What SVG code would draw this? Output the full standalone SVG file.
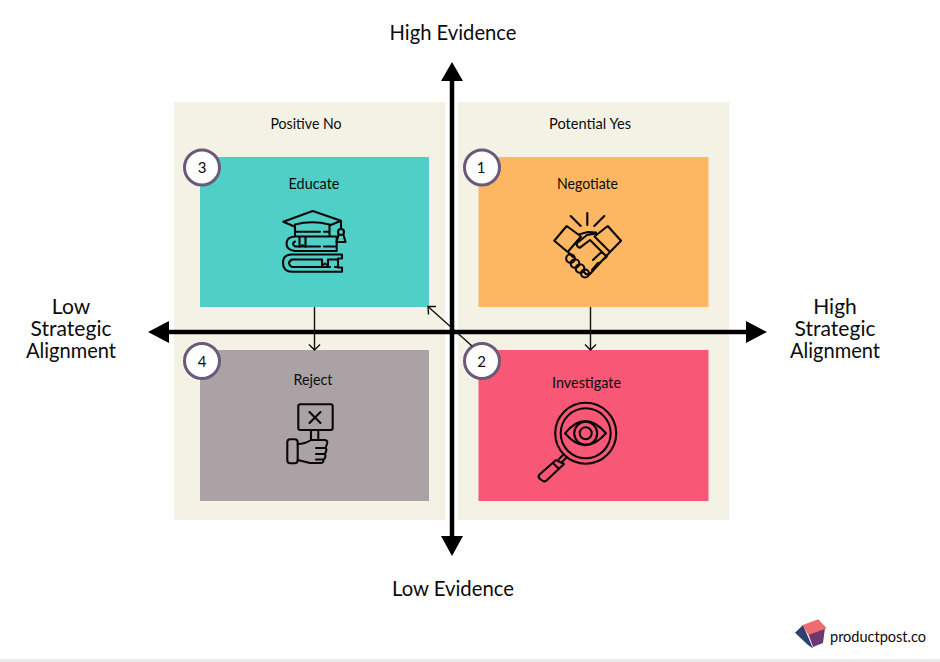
<svg xmlns="http://www.w3.org/2000/svg" width="940" height="662" viewBox="0 0 940 662">
<style>
text{font-family:"Lato","Liberation Sans",sans-serif;fill:#0c0c0c;text-anchor:middle}
.ax{font-size:21px}
.sm{font-size:15px}
.n{font-size:15px}
.bg{fill:#f4f2e4}
.c{fill:#fff;stroke:#6a5a7a;stroke-width:3}
.i{fill:none;stroke:#080808;stroke-width:2.100;stroke-linecap:round;stroke-linejoin:round}
.ln{fill:none;stroke:#111;stroke-width:1.400}
.axis{fill:none;stroke:#000;stroke-width:4.500}
</style>
<rect width="940" height="662" fill="#fff"/>
<rect y="659" width="940" height="3" fill="#ececec"/>
<rect class="bg" x="174" y="102" width="271" height="418"/>
<rect class="bg" x="458" y="102" width="271" height="418"/>
<text class="sm" x="306" y="129" textLength="71" lengthAdjust="spacingAndGlyphs">Positive No</text>
<text class="sm" x="590" y="129" textLength="82" lengthAdjust="spacingAndGlyphs">Potential Yes</text>

<g id="node-educate">
<rect x="200" y="157" width="229" height="150" fill="#50cfc7"/>
<text class="sm" x="314" y="189" textLength="51" lengthAdjust="spacingAndGlyphs">Educate</text>
<path class="i" d="M312.700 211L341 220.700 329.500 225.500M295 226.700L283.300 221.700 312.700 211M295 236V224.500Q312 220 329.500 224.500V236M295 231.700H320M324 231.700H329.500M295 236.500H336.700V251H295M295 236.500Q286.500 237 286.500 243.500T295 251M295 241.500Q291 243.500 295 246.500H320M324 246.500H336.700M299.500 237V247L302.500 245 305.500 247V237M292 254.500H342V258.500H338V267.500H342V271.700H292Q283 271.700 283 263T292 254.500ZM292 259.500Q286 263 292 267H330M335 267H338M292 259.500H322M328 259.500H338M322 259.500V265.500L325 263.500 328 265.500V259.500M341 221V229"/>
<circle class="i" cx="341" cy="232" r="3"/>
<path class="i" d="M338.500 235L336.500 242H345.500L343.500 235"/>
<circle class="c" cx="202" cy="167.500" r="17.500"/>
<text class="n" x="202" y="173">3</text>
</g>

<g id="node-negotiate">
<rect x="478.500" y="157" width="230" height="150" fill="#fdb763"/>
<text class="sm" x="587.500" y="189" textLength="61" lengthAdjust="spacingAndGlyphs">Negotiate</text>
<path class="i" d="M587.300 213V225M570.700 216L580.700 226M604.300 216L594.300 226M554.300 240.700L566.700 226 581 236.500 567.700 252ZM621 240.700L607.700 226 594.500 236.500 610 252ZM578.500 234.500L588 232 596 232.500M596 233.500L587 235 576.700 243.300Q576.500 247 580 247.700L590 240 606 256M610 252L590 274Q587 276 584 272M568 252L573 257M593 260L601.700 251.700M597 265L606.700 256.700M592 270L598 263"/>
<circle class="i" cx="570.500" cy="258.500" r="4.300"/>
<circle class="i" cx="575" cy="263.500" r="4.300"/>
<circle class="i" cx="580" cy="268.500" r="4.300"/>
<circle class="i" cx="585" cy="273.500" r="4"/>
<circle class="c" cx="482" cy="167.500" r="17.500"/>
<text class="n" x="481" y="173">1</text>
</g>

<g id="node-reject">
<rect x="200" y="350" width="229" height="151" fill="#aba2a6"/>
<text class="sm" x="313" y="385" textLength="39" lengthAdjust="spacingAndGlyphs">Reject</text>
<rect class="i" x="298.300" y="404.300" width="34.400" height="25.700" rx="2"/>
<path class="i" d="M309.500 412L320.500 423M320.500 412L309.500 423M311 430V440M318.300 430V440"/>
<rect class="i" x="287.300" y="439.300" width="10.400" height="24" rx="3"/>
<path class="i" d="M297.700 444Q305 444 311 440H325Q328 440 327 444L325.500 448H316M325.500 448Q327 449 326 451.500L325 454H316M325 454Q326 456 325 458L323.500 459.500H316M323.500 459.500Q324 463 320.500 463H310L297.700 460"/>
<circle class="c" cx="202" cy="361" r="17.500"/>
<text class="n" x="202" y="366.500">4</text>
</g>

<g id="node-investigate">
<rect x="478.500" y="350" width="230" height="151" fill="#f85776"/>
<text class="sm" x="586.500" y="388" textLength="69" lengthAdjust="spacingAndGlyphs">Investigate</text>
<circle class="i" cx="585.700" cy="433.300" r="30.500"/>
<circle class="i" cx="585.700" cy="433.300" r="25"/>
<path class="i" d="M565 433.300Q585 409 606 433.300Q585 457 565 433.300Z"/>
<circle class="i" cx="585.700" cy="433.300" r="11.500"/>
<circle class="i" cx="585.700" cy="433.300" r="6"/>
<path class="i" d="M563 455L559 459M566 458L562 462M556 460L539 475Q538 477 540 479L543 481Q545 482 547 480L564 464ZM553 463L559 469"/>
<circle class="c" cx="482" cy="361" r="17.500"/>
<text class="n" x="481.500" y="366.500">2</text>
</g>

<g id="connectors">
<path class="axis" d="M165 332H750M452 80V538"/>
<path d="M148 332L169 321V343ZM767 332L746 321V343ZM452 62L463 81H441ZM452 556L463 536H441Z" fill="#000"/>
<path class="ln" d="M314.500 307V350M309 344.500L314.500 350 320 344.500"/>
<path class="ln" d="M590.500 307V350M585 344.500L590.500 350 596 344.500"/>
<path class="ln" d="M472 346L428 306.500M428.500 314.500L428 306.500 436 306.500"/>
</g>

<g id="axis-labels">
<text class="ax" x="453" y="40" textLength="127" lengthAdjust="spacingAndGlyphs">High Evidence</text>
<text class="ax" x="453" y="596" textLength="122" lengthAdjust="spacingAndGlyphs">Low Evidence</text>
<text class="ax" x="71" y="314">Low</text>
<text class="ax" x="71" y="336" textLength="81" lengthAdjust="spacingAndGlyphs">Strategic</text>
<text class="ax" x="71" y="358" textLength="90" lengthAdjust="spacingAndGlyphs">Alignment</text>
<text class="ax" x="835" y="314">High</text>
<text class="ax" x="835" y="336" textLength="81" lengthAdjust="spacingAndGlyphs">Strategic</text>
<text class="ax" x="835" y="358" textLength="90" lengthAdjust="spacingAndGlyphs">Alignment</text>
</g>

<g id="logo">
<path d="M795 632.700L803 625 813 648.500 808 645Z" fill="#2f3f70"/>
<path d="M808 633L825 628 823 643 813 647Z" fill="#6c3a70"/>
<path d="M802.700 625L818.300 619.300 826.700 628.300 808.300 635Z" fill="#ee6c70"/>
<text x="830" y="642" font-size="15" style="text-anchor:start" textLength="96" lengthAdjust="spacingAndGlyphs">productpost.co</text>
</g>
</svg>
